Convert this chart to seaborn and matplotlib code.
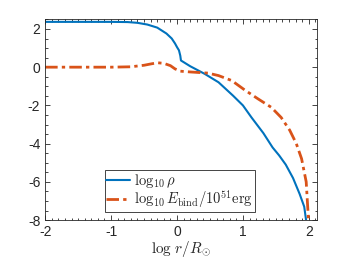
import numpy as np
import pandas as pd
import matplotlib
matplotlib.use('Agg')
import matplotlib.pyplot as plt
from matplotlib.ticker import MultipleLocator
import seaborn as sns

# values
rho_x = [-2.0, -1.0, -0.75, -0.6, -0.45, -0.3, -0.16, -0.08, -0.03, 0.0, 0.03,
         0.05, 0.06, 0.2, 0.42, 0.63, 0.85, 1.0, 1.13, 1.31, 1.45, 1.55, 1.65,
         1.76, 1.86, 1.93, 1.97]
rho_y = [2.37, 2.37, 2.36, 2.32, 2.23, 2.07, 1.76, 1.5, 1.24, 1.05, 0.88,
         0.6, 0.35, 0.05, -0.35, -0.79, -1.49, -2.0, -2.63, -3.45, -4.2, -4.62,
         -5.1, -5.8, -6.63, -7.3, -8.3]

ebind_x = [-2.0, -1.0, -0.7, -0.5, -0.38, -0.29, -0.2, -0.1, -0.03, 0.05, 0.2,
           0.47, 0.63, 0.83, 1.03, 1.23, 1.43, 1.58, 1.71, 1.81, 1.89, 1.96, 2.0]
ebind_y = [0.0, 0.0, 0.02, 0.1, 0.18, 0.23, 0.2, 0.08, -0.09, -0.21, -0.25,
           -0.31, -0.44, -0.7, -1.2, -1.66, -2.1, -2.63, -3.3, -4.0, -4.79,
           -6.0, -8.3]

label_rho = r'$\log_{10}\rho$'
label_ebind = r'$\log_{10}E_{\rm bind}/10^{51}{\rm erg}$'

sns.set_style('ticks')
plt.rcParams['font.family'] = ['Liberation Sans', 'DejaVu Sans']
plt.rcParams['mathtext.fontset'] = 'cm'
plt.rcParams['axes.unicode_minus'] = False

fig = plt.figure(figsize=(3.5, 2.62), dpi=100)
ax = fig.add_axes([0.129, 0.160, 0.776, 0.766])

sns.lineplot(x=rho_x, y=rho_y, ax=ax, color='#0072BD', lw=1.5,
             label=label_rho, sort=False)
sns.lineplot(x=ebind_x, y=ebind_y, ax=ax, color='#D95319', lw=2.0,
             ls=(0, (4.5, 1.5, 1.2, 1.5)), label=label_ebind, sort=False)

ax.set_xlim(-2, 2.12)
ax.set_ylim(-8, 2.5)
ax.set_xticks([-2, -1, 0, 1, 2])
ax.set_yticks([2, 0, -2, -4, -6, -8])
ax.xaxis.set_minor_locator(MultipleLocator(0.1))
ax.yaxis.set_minor_locator(MultipleLocator(0.5))
ax.tick_params(which='both', direction='in', top=True, right=True,
               colors='#262626', labelsize=10, width=0.6)
ax.tick_params(which='major', length=3.5)
ax.tick_params(which='minor', length=1.8)
for s in ax.spines.values():
    s.set_color('#262626')
    s.set_linewidth(0.6)

ax.set_xlabel(r'$\log\, r/R_{\odot}$', fontsize=11, labelpad=0)
ax.set_ylabel('')

leg = ax.legend(loc='lower center', bbox_to_anchor=(0.495, 0.04),
                borderaxespad=0, fontsize=10.5, handlelength=1.6,
                handletextpad=0.3, labelspacing=-0.1, borderpad=0.12,
                fancybox=False, framealpha=1)
leg.get_frame().set_edgecolor('#262626')
leg.get_frame().set_linewidth(0.6)

fig.savefig('out.png', dpi=100)
